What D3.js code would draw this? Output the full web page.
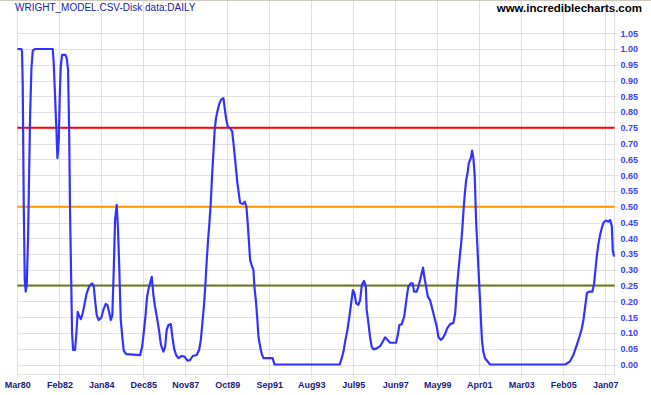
<!DOCTYPE html>
<html><head><meta charset="utf-8">
<script src="https://cdn.jsdelivr.net/npm/d3@7"></script>
<style>body{margin:0;background:#fff}svg{display:block}text{font-family:"Liberation Sans",Arial,sans-serif}</style>
</head><body>
<svg id="c" width="651" height="395"></svg>
<script>
const years = [1980.168,1980.35,1980.38,1980.41,1980.457,1980.503,1980.548,1980.594,1980.655,1980.70,1980.746,1980.807,1980.868,1980.975,1981.78,1981.826,1981.887,1981.948,1981.994,1982.055,1982.10,1982.146,1982.207,1982.36,1982.42,1982.48,1982.527,1982.57,1982.62,1982.663,1982.71,1982.80,1982.86,1982.92,1983.0,1983.07,1983.15,1983.24,1983.33,1983.455,1983.576,1983.65,1983.713,1983.79,1983.88,1984.0,1984.09,1984.2,1984.275,1984.35,1984.43,1984.5,1984.565,1984.625,1984.70,1984.76,1984.81,1984.885,1984.96,1985.02,1985.13,1985.77,1985.86,1985.93,1986.01,1986.085,1986.16,1986.24,1986.30,1986.375,1986.45,1986.53,1986.63,1986.72,1986.83,1986.91,1986.98,1987.06,1987.17,1987.24,1987.32,1987.41,1987.52,1987.67,1987.79,1987.93,1988.05,1988.17,1988.35,1988.46,1988.54,1988.61,1988.69,1988.75,1988.81,1988.87,1988.93,1988.99,1989.05,1989.11,1989.17,1989.23,1989.31,1989.39,1989.48,1989.57,1989.63,1989.69,1989.77,1989.875,1989.97,1990.03,1990.09,1990.15,1990.21,1990.27,1990.33,1990.45,1990.545,1990.62,1990.68,1990.74,1990.79,1990.86,1990.94,1990.985,1991.05,1991.11,1991.17,1991.25,1991.32,1991.4,1991.82,1991.90,1994.88,1994.97,1995.05,1995.14,1995.23,1995.32,1995.40,1995.48,1995.55,1995.63,1995.73,1995.81,1995.89,1995.99,1996.07,1996.11,1996.19,1996.26,1996.34,1996.42,1996.57,1996.72,1996.84,1996.95,1997.06,1997.18,1997.45,1997.53,1997.6,1997.71,1997.82,1997.88,1997.94,1998.01,1998.12,1998.21,1998.27,1998.39,1998.47,1998.55,1998.62,1998.68,1998.74,1998.82,1998.9,1999.0,1999.08,1999.15,1999.23,1999.31,1999.38,1999.49,1999.58,1999.69,1999.79,1999.92,2000.07,2000.15,2000.22,2000.30,2000.38,2000.41,2000.47,2000.53,2000.59,2000.65,2000.71,2000.77,2000.86,2000.92,2000.98,2001.04,2001.10,2001.16,2001.22,2001.28,2001.33,2001.37,2001.43,2001.51,2001.74,2005.17,2005.39,2005.54,2005.70,2005.82,2005.93,2006.0,2006.08,2006.16,2006.26,2006.41,2006.49,2006.55,2006.61,2006.69,2006.76,2006.84,2006.92,2007.02,2007.14,2007.22,2007.30,2007.34,2007.40];
const values = [1.000,1.00,0.991,0.891,0.511,0.268,0.231,0.252,0.405,0.595,0.785,0.939,0.995,1.00,1.00,0.955,0.849,0.743,0.654,0.71,0.849,0.944,0.981,0.981,0.97,0.933,0.754,0.49,0.278,0.099,0.046,0.046,0.099,0.167,0.152,0.144,0.163,0.194,0.226,0.249,0.257,0.249,0.204,0.156,0.141,0.149,0.173,0.192,0.189,0.167,0.141,0.156,0.30,0.458,0.506,0.427,0.321,0.141,0.083,0.044,0.033,0.030,0.056,0.099,0.152,0.215,0.241,0.262,0.278,0.22,0.183,0.152,0.109,0.062,0.041,0.056,0.109,0.125,0.128,0.088,0.051,0.030,0.020,0.027,0.025,0.012,0.014,0.027,0.030,0.046,0.078,0.131,0.194,0.257,0.331,0.395,0.447,0.511,0.595,0.669,0.743,0.780,0.807,0.828,0.841,0.844,0.812,0.78,0.754,0.749,0.739,0.701,0.659,0.616,0.574,0.543,0.513,0.509,0.516,0.50,0.447,0.384,0.331,0.315,0.30,0.247,0.204,0.152,0.088,0.056,0.033,0.020,0.020,0.0,0.0,0.02,0.041,0.078,0.109,0.152,0.194,0.236,0.226,0.194,0.189,0.204,0.252,0.265,0.247,0.173,0.131,0.088,0.056,0.048,0.051,0.058,0.072,0.086,0.078,0.069,0.069,0.094,0.125,0.128,0.152,0.183,0.215,0.247,0.257,0.257,0.231,0.231,0.247,0.268,0.289,0.307,0.278,0.247,0.215,0.204,0.183,0.163,0.141,0.12,0.088,0.078,0.083,0.097,0.115,0.128,0.132,0.163,0.236,0.30,0.358,0.374,0.426,0.49,0.543,0.585,0.606,0.638,0.654,0.678,0.654,0.595,0.458,0.374,0.289,0.204,0.131,0.078,0.041,0.020,0.0,0.0,0.01,0.03,0.062,0.088,0.115,0.141,0.183,0.226,0.231,0.231,0.257,0.30,0.342,0.384,0.41,0.432,0.45,0.456,0.453,0.458,0.437,0.363,0.342];
const xTickLabels = ["1980-03","1982-02","1984-01","1985-12","1987-11","1989-10","1991-09","1993-08","1995-07","1997-06","1999-05","2001-04","2003-03","2005-02","2007-01"];
const yTicks = [0,0.05,0.10,0.15,0.20,0.25,0.30,0.35,0.40,0.45,0.50,0.55,0.60,0.65,0.70,0.75,0.80,0.85,0.90,0.95,1.00,1.05];
const refLevels = [0.75,0.50,0.25];
const refColors = ["#ff0000","#ff9900","#6f7a0c"];
const title = "WRIGHT_MODEL.CSV-Disk data:DAILY";
const site = "www.incrediblecharts.com";

function dy(y){const yr=Math.floor(y);const s=new Date(yr,0,1),e=new Date(yr+1,0,1);return new Date(+s+(y-yr)*(e-s));}
const parse = d3.timeParse("%Y-%m");
const fmt = d3.timeFormat("%b%y");
const svg = d3.select("#c");
const L=17.3, R=614.5, B=374.3;
const x = d3.scaleTime().domain([new Date(1980,2,1), new Date(2007,0,1)]).range([17.3,605.3]);
const y = d3.scaleLinear().domain([0,1.05]).range([364.5,33.2]);
const tickDates = xTickLabels.map(parse);

// top border
svg.append("line").attr("x1",0).attr("x2",651).attr("y1",0.5).attr("y2",0.5).attr("stroke","#cfcac0");
// horizontal grid
svg.append("g").selectAll("line").data(yTicks).join("line")
  .attr("x1",L).attr("x2",R).attr("y1",d=>Math.round(y(d))+0.5).attr("y2",d=>Math.round(y(d))+0.5)
  .attr("stroke","#e0e0e0");
// vertical grid
svg.append("g").selectAll("line").data(tickDates).join("line")
  .attr("x1",d=>Math.round(x(d))+0.5).attr("x2",d=>Math.round(x(d))+0.5).attr("y1",1).attr("y2",B)
  .attr("stroke","#e0e0e0");
svg.append("line").attr("x1",R).attr("x2",R).attr("y1",1).attr("y2",B).attr("stroke","#e0e0e0");

// x axis
const xa = svg.append("g").attr("transform",`translate(0,${Math.round(B)+0.5})`)
  .call(d3.axisBottom(x).tickValues(tickDates).tickFormat(fmt).tickSize(4).tickPadding(3));
xa.select(".domain").attr("stroke","#e0e0e0").attr("d",`M${L},0H${R}`);
xa.selectAll(".tick line").attr("stroke","#e0e0e0");
xa.selectAll("text").attr("fill","#1a1a80").attr("font-size","9px").attr("font-weight","bold").attr("font-family","Liberation Sans, Arial, sans-serif");

// y axis (right)
const ya = svg.append("g").attr("transform",`translate(${R},0)`)
  .call(d3.axisRight(y).tickValues(yTicks).tickFormat(d3.format(".2f")).tickSize(4).tickPadding(2));
ya.select(".domain").attr("stroke","#e0e0e0").attr("d",`M0,${y(1.05)}V${B}`);
ya.selectAll(".tick line").attr("stroke","#e0e0e0");
ya.selectAll("text").attr("fill","#4040f0").attr("font-size","9px").attr("font-weight","bold").attr("font-family","Liberation Sans, Arial, sans-serif");

// reference lines
svg.append("g").selectAll("line").data(refLevels).join("line")
  .attr("x1",L).attr("x2",R).attr("y1",d=>y(d)).attr("y2",d=>y(d))
  .attr("stroke",(d,i)=>refColors[i]).attr("stroke-width",2);

// data line
const data = years.map((yr,i)=>({d:dy(yr),v:values[i]}));
svg.append("path").datum(data)
  .attr("d",d3.line().x(p=>x(p.d)).y(p=>y(p.v)))
  .attr("fill","none").attr("stroke","#3333ff").attr("stroke-width",2.2).attr("stroke-linejoin","round");

// titles
svg.append("text").attr("x",15).attr("y",11).attr("fill","#2020a0").attr("font-size","10px").text(title);
svg.append("text").attr("x",642).attr("y",12).attr("text-anchor","end").attr("fill","#000").attr("font-size","11.5px").attr("font-weight","bold").text(site);
</script>
</body></html>
